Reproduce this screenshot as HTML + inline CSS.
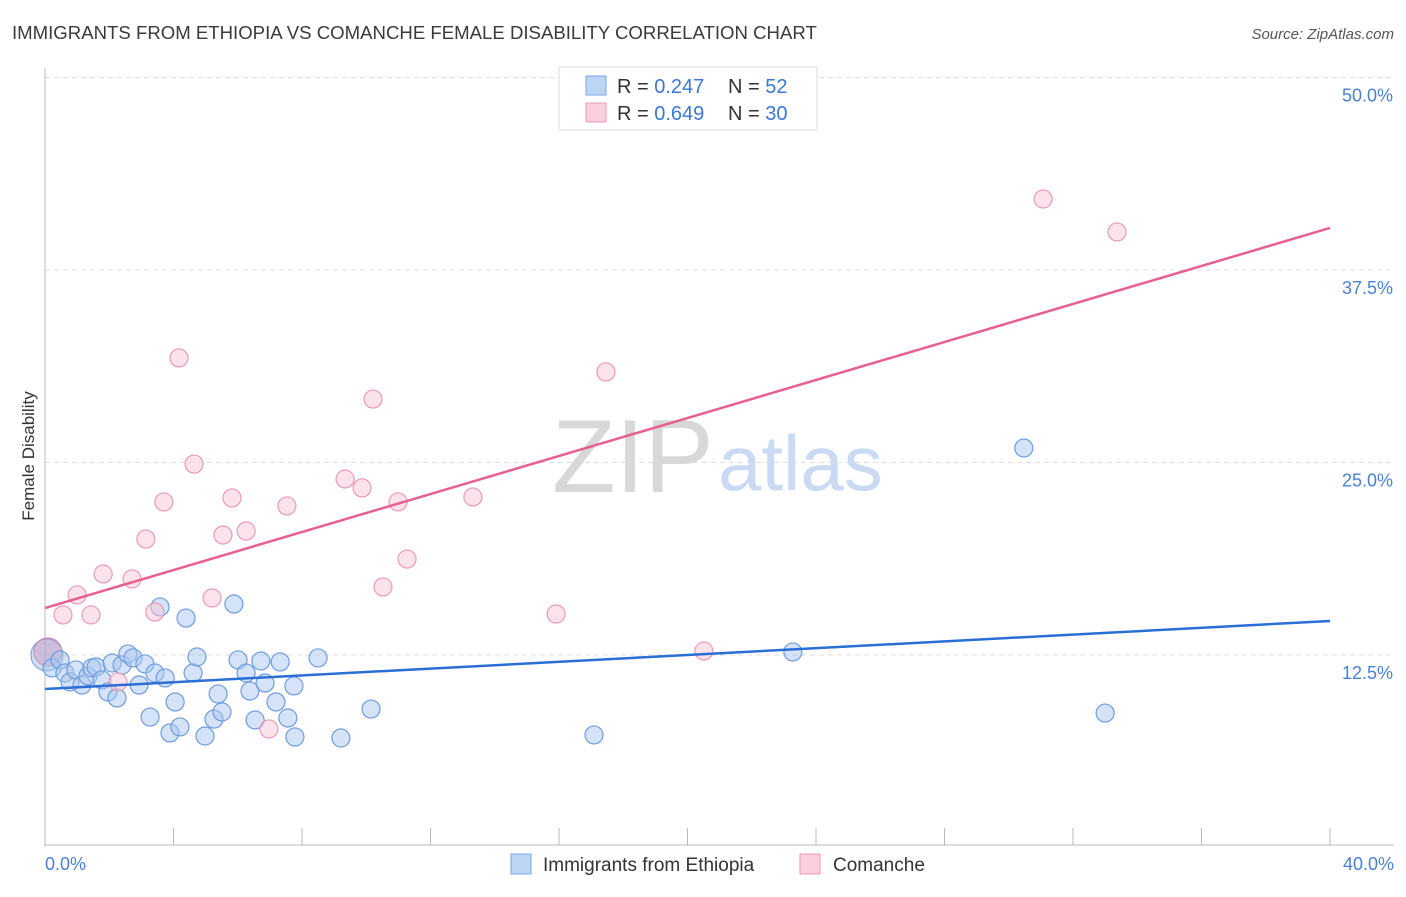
<!DOCTYPE html>
<html><head><meta charset="utf-8"><style>
body{margin:0;background:#fff;font-family:"Liberation Sans",sans-serif}
svg text{font-family:"Liberation Sans",sans-serif}
</style></head><body>
<svg id="chart" width="1406" height="892" xmlns="http://www.w3.org/2000/svg">
<text x="12" y="39" font-size="18.6" fill="#3a3a3a">IMMIGRANTS FROM ETHIOPIA VS COMANCHE FEMALE DISABILITY CORRELATION CHART</text>
<text x="1394" y="39" font-size="15" fill="#555" text-anchor="end" font-style="italic">Source: ZipAtlas.com</text>
<g id="grid"></g>
<text x="552" y="492" font-size="104" fill="#d8d8d8" font-family="Liberation Serif,serif">ZIP</text>
<text x="718" y="490" font-size="78" fill="#c9daf2">atlas</text>
<line x1="45" y1="68" x2="45" y2="847" stroke="#bbb"/>
<line x1="45" y1="845" x2="1394" y2="845" stroke="#bbb"/>
<g id="ticks"></g>
<text transform="translate(34,456) rotate(-90)" font-size="17" fill="#333" text-anchor="middle">Female Disability</text>
<text x="45" y="870" font-size="18" fill="#4a80d6">0.0%</text>
<text x="1394" y="870" font-size="18" fill="#4a80d6" text-anchor="end">40.0%</text>
<g id="marks"></g>
<g>
<rect x="559" y="67" width="258" height="63" fill="#fff" stroke="#ddd"/>
<rect x="586" y="76" width="20" height="19" fill="#bcd5f5" stroke="#7aa6e6"/>
<rect x="586" y="103" width="20" height="19" fill="#fbd0dc" stroke="#ec9ab3"/>
<text x="617" y="93" font-size="20" fill="#333">R = <tspan fill="#3a78d4">0.247</tspan><tspan x="728">N = </tspan><tspan fill="#3a78d4">52</tspan></text>
<text x="617" y="120" font-size="20" fill="#333">R = <tspan fill="#3a78d4">0.649</tspan><tspan x="728">N = </tspan><tspan fill="#3a78d4">30</tspan></text>
</g>
<rect x="511" y="854" width="20" height="20" fill="#bcd5f5" stroke="#7aa6e6"/>
<text x="543" y="871" font-size="19" fill="#333">Immigrants from Ethiopia</text>
<rect x="800" y="854" width="20" height="20" fill="#fbd0dc" stroke="#ec9ab3"/>
<text x="833" y="871" font-size="19" fill="#333">Comanche</text>
</svg>
<script>
const yTicks=[12.5,25,37.5,50];
const yTickLabels=["12.5%","25.0%","37.5%","50.0%"];
const xTicks=[0,4,8,12,16,20,24,28,32,36,40];
const blueX=[0.22,0.47,0.62,0.78,0.96,1.15,1.34,1.46,1.59,1.77,1.96,2.09,2.24,2.40,2.58,2.74,2.93,3.11,3.27,3.42,3.58,3.74,3.89,4.05,4.20,4.39,4.61,4.73,4.98,5.26,5.39,5.51,5.88,6.01,6.26,6.38,6.54,6.72,6.85,7.19,7.32,7.56,7.75,7.78,8.50,9.21,10.15,17.09,23.28,30.47,33.00];
const blueY=[11.66,12.18,11.33,10.75,11.53,10.55,11.14,11.66,11.72,10.88,10.10,11.98,9.71,11.85,12.57,12.31,10.55,11.92,8.47,11.33,15.62,11.01,7.44,9.45,7.83,14.90,11.33,12.37,7.24,8.34,9.97,8.80,15.81,12.18,11.33,10.16,8.28,12.11,10.68,9.45,12.05,8.41,10.49,7.18,12.31,7.11,8.99,7.31,12.70,25.94,8.73];
const pinkX=[0.56,1.00,1.43,1.81,2.27,2.71,3.14,3.42,3.70,4.17,4.64,5.20,5.54,5.82,6.26,6.97,7.53,9.34,9.87,10.21,10.52,10.99,11.27,13.32,15.91,17.46,20.51,31.07,33.37];
const pinkY=[15.10,16.40,15.10,17.76,10.75,17.44,20.03,15.29,22.44,31.79,24.90,16.20,20.29,22.70,20.55,7.70,22.18,23.93,23.35,29.12,16.92,22.44,18.73,22.76,15.16,30.88,12.76,42.11,39.97];
const blueBig=[0.06,12.5];
const pinkBig=[0.09,12.7];
const blueTrend=[10.29,14.71];
const pinkTrend=[15.55,40.23];
const NS="http://www.w3.org/2000/svg";
const sx=v=>45+v/40*1285;
const sy=v=>847.5-v/12.5*192.5;
function mk(tag,parent,attrs){const e=document.createElementNS(NS,tag);for(const k in attrs)e.setAttribute(k,attrs[k]);document.getElementById(parent).appendChild(e);return e;}
yTicks.forEach((t,i)=>{
 const l=mk('line','grid',{x1:45,x2:1394,y1:sy(t),y2:sy(t),stroke:'#ddd','stroke-dasharray':'5,4'});
 
 
 const tx=mk('text','grid',{x:1393,y:sy(t)+24,'font-size':18,fill:'#4a80d6','text-anchor':'end'});
 tx.textContent=yTickLabels[i];
 
 
});
xTicks.forEach(t=>{
 const l=mk('line','ticks',{x1:sx(t),x2:sx(t),y1:828,y2:845,stroke:'#bbb'});
 
 
});
const big1=mk('circle','marks',{cx:sx(blueBig[0]),cy:sy(blueBig[1]),r:16,fill:'rgba(160,190,235,0.5)',stroke:'#6f9ce0'});


const big2=mk('circle','marks',{cx:sx(pinkBig[0]),cy:sy(pinkBig[1]),r:14,fill:'rgba(200,150,190,0.45)',stroke:'#d58aa8'});


blueX.forEach((x,i)=>{
 const c=mk('circle','marks',{cx:sx(x),cy:sy(blueY[i]),r:9,fill:'rgba(170,200,240,0.5)',stroke:'#6f9ce0','stroke-width':1.2});
 
 
});
pinkX.forEach((x,i)=>{
 const c=mk('circle','marks',{cx:sx(x),cy:sy(pinkY[i]),r:9,fill:'rgba(250,200,215,0.5)',stroke:'#eb9ab4','stroke-width':1.2});
 
 
});
const bl=mk('line','marks',{x1:sx(0),y1:sy(blueTrend[0]),x2:sx(40),y2:sy(blueTrend[1]),stroke:'#2a6fd6','stroke-width':2.5});


const pl=mk('line','marks',{x1:sx(0),y1:sy(pinkTrend[0]),x2:sx(40),y2:sy(pinkTrend[1]),stroke:'#e8608c','stroke-width':2.5});


</script>
</body></html>
